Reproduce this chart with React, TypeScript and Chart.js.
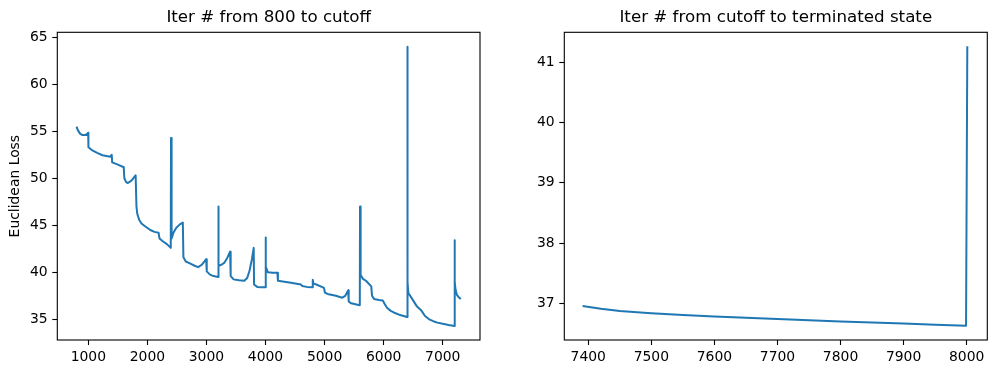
import React, { useEffect, useRef } from "react";
import { Chart, registerables } from "chart.js";

Chart.register(...registerables);

// ---- data ----
const leftIters = [
  800, 825, 860, 900, 950, 985, 998, 1002, 1060, 1150, 1240, 1370, 1396, 1404, 1500, 1590,
  1600, 1610, 1640, 1670, 1730, 1800, 1802, 1815, 1830, 1860, 1900, 1960, 2050, 2120, 2190,
  2205, 2260, 2330, 2396, 2400, 2410, 2440, 2490, 2550, 2600, 2610, 2650, 2720, 2800, 2860,
  2920, 2970, 2995, 3005, 3060, 3120, 3196, 3200, 3208, 3240, 3300, 3350, 3400, 3410, 3460,
  3550, 3640, 3690, 3730, 3770, 3800, 3806, 3860, 3930, 3996, 4000, 4008, 4040, 4120, 4200,
  4210, 4320, 4430, 4600, 4620, 4700, 4797, 4800, 4812, 4860, 4990, 5005, 5050, 5190, 5300,
  5350, 5385, 5400, 5408, 5450, 5520, 5596, 5600, 5606, 5614, 5650, 5700, 5790, 5803, 5840,
  5920, 5985, 6020, 6060, 6120, 6180, 6280, 6396, 6400, 6408, 6418, 6480, 6560, 6630, 6700,
  6770, 6840, 6910, 7000, 7100, 7196, 7200, 7206, 7216, 7240, 7270, 7306,
];
const leftLoss = [
  55.5, 55.1, 54.75, 54.6, 54.6, 54.75, 54.85, 53.3, 53.0, 52.7, 52.45, 52.3, 52.5, 51.7, 51.45, 51.2,
  51.1, 50.0, 49.6, 49.5, 49.75, 50.3, 50.1, 47.0, 46.2, 45.6, 45.2, 44.9, 44.5, 44.3, 44.2,
  43.6, 43.3, 43.0, 42.6, 54.3, 43.6, 44.2, 44.75, 45.1, 45.3, 41.6, 41.15, 40.95, 40.7, 40.55,
  40.8, 41.2, 41.4, 40.1, 39.75, 39.6, 39.5, 47.0, 40.8, 40.75, 41.0, 41.5, 42.2, 39.6, 39.25,
  39.15, 39.1, 39.4, 40.2, 41.4, 42.6, 38.7, 38.45, 38.4, 38.4, 43.7, 40.6, 40.0, 39.95, 39.95,
  39.1, 39.0, 38.9, 38.7, 38.55, 38.45, 38.4, 39.2, 38.8, 38.7, 38.35, 37.85, 37.7, 37.5, 37.3,
  37.5, 37.9, 38.1, 36.9, 36.7, 36.6, 36.5, 47.0, 41.0, 39.7, 39.3, 39.1, 38.5, 37.5, 37.15,
  37.05, 37.0, 36.6, 36.2, 35.9, 35.7, 35.45, 35.25, 64.0, 39.0, 37.8, 37.2, 36.4, 36.0, 35.35,
  35.0, 34.8, 34.65, 34.52, 34.4, 34.3, 43.4, 39.0, 38.2, 37.6, 37.35, 37.15,
];
const rightIters = [7391, 7420, 7450, 7500, 7550, 7600, 7650, 7700, 7750, 7800, 7850, 7900, 7950, 7999, 8001];
const rightLoss = [36.955, 36.91, 36.873, 36.835, 36.805, 36.78, 36.76, 36.74, 36.718, 36.698, 36.68, 36.662, 36.645, 36.628, 41.27];

const leftXTicks = [1000, 2000, 3000, 4000, 5000, 6000, 7000];
const leftYTicks = [35, 40, 45, 50, 55, 60, 65];
const rightXTicks = [7400, 7500, 7600, 7700, 7800, 7900, 8000];
const rightYTicks = [37, 38, 39, 40, 41];

const leftTitle = "Iter # from 800 to cutoff";
const rightTitle = "Iter # from cutoff to terminated state";
const leftYLabel = "Euclidean Loss";

const FONT = "'DejaVu Sans', sans-serif";
const LINE_COLOR = "#1f77b4";

const framePlugin = {
  id: "frame",
  afterDraw(chart: any) {
    const { ctx, chartArea: a } = chart;
    ctx.save();
    ctx.strokeStyle = "#000";
    ctx.lineWidth = 1.1;
    ctx.strokeRect(a.left, a.top, a.right - a.left, a.bottom - a.top);
    ctx.restore();
  },
};

type PanelProps = {
  iters: number[];
  loss: number[];
  xTicks: number[];
  yTicks: number[];
  xMin: number;
  xMax: number;
  yMin: number;
  yMax: number;
  title: string;
  yLabel?: string;
  yAxisWidth: number;
  padRight: number;
  width: number;
  left: number;
};

function Panel(p: PanelProps) {
  const ref = useRef<HTMLCanvasElement | null>(null);
  useEffect(() => {
    if (!ref.current) return;
    const points = p.iters.map((x, i) => ({ x, y: p.loss[i] }));
    const chart = new Chart(ref.current, {
      type: "line",
      data: {
        datasets: [
          {
            data: points,
            borderColor: LINE_COLOR,
            backgroundColor: LINE_COLOR,
            borderWidth: 2,
            pointRadius: 0,
            tension: 0,
            borderJoinStyle: "round",
            fill: false,
          },
        ],
      },
      options: {
        responsive: false,
        animation: false,
        layout: { padding: { left: 0, right: p.padRight, top: 0, bottom: 0 } },
        plugins: {
          legend: { display: false },
          tooltip: { enabled: false },
          title: {
            display: true,
            text: p.title,
            color: "#000",
            fullSize: false,
            font: { family: FONT, size: 16.7, weight: "normal" },
            padding: { top: 8, bottom: 4.26 },
          },
        },
        scales: {
          x: {
            type: "linear",
            min: p.xMin,
            max: p.xMax,
            afterBuildTicks: (s: any) => {
              s.ticks = p.xTicks.map((v) => ({ value: v }));
            },
            afterFit: (s: any) => {
              s.height = 34;
            },
            grid: {
              display: true,
              drawOnChartArea: false,
              drawTicks: true,
              tickLength: 5,
              tickColor: "#000",
              tickWidth: 1.1,
            },
            border: { display: false },
            ticks: {
              autoSkip: false,
              maxRotation: 0,
              color: "#000",
              padding: 4.5,
              font: { family: FONT, size: 13.9 },
              callback: (v: any) => String(v),
            },
          },
          y: {
            type: "linear",
            min: p.yMin,
            max: p.yMax,
            afterBuildTicks: (s: any) => {
              s.ticks = p.yTicks.map((v) => ({ value: v }));
            },
            afterFit: (s: any) => {
              s.width = p.yAxisWidth;
            },
            grid: {
              display: true,
              drawOnChartArea: false,
              drawTicks: true,
              tickLength: 5,
              tickColor: "#000",
              tickWidth: 1.1,
            },
            border: { display: false },
            title: {
              display: !!p.yLabel,
              text: p.yLabel || "",
              color: "#000",
              font: { family: FONT, size: 13.9 },
              padding: { top: 7.5, bottom: 0 },
            },
            ticks: {
              autoSkip: false,
              color: "#000",
              padding: 4.7,
              font: { family: FONT, size: 13.9 },
              callback: (v: any) => String(v),
            },
          },
        },
      },
      plugins: [framePlugin],
    } as any);
    return () => chart.destroy();
  }, []);
  return (
    <canvas
      ref={ref}
      width={p.width}
      height={374}
      style={{ position: "absolute", left: p.left, top: 0, width: p.width, height: 374 }}
    />
  );
}

export default function App() {
  return (
    <div style={{ position: "absolute", left: 0, top: 0, width: 996, height: 374, background: "#fff" }}>
      <Panel
        iters={leftIters}
        loss={leftLoss}
        xTicks={leftXTicks}
        yTicks={leftYTicks}
        xMin={475}
        xMax={7631}
        yMin={32.8}
        yMax={65.53}
        title={leftTitle}
        yLabel={leftYLabel}
        yAxisWidth={57.3}
        padRight={20}
        width={500}
        left={0}
      />
      <Panel
        iters={rightIters}
        loss={rightLoss}
        xTicks={rightXTicks}
        yTicks={rightYTicks}
        xMin={7362}
        xMax={8032.7}
        yMin={36.39}
        yMax={41.5}
        title={rightTitle}
        yAxisWidth={64.3}
        padRight={8.7}
        width={496}
        left={500}
      />
    </div>
  );
}
